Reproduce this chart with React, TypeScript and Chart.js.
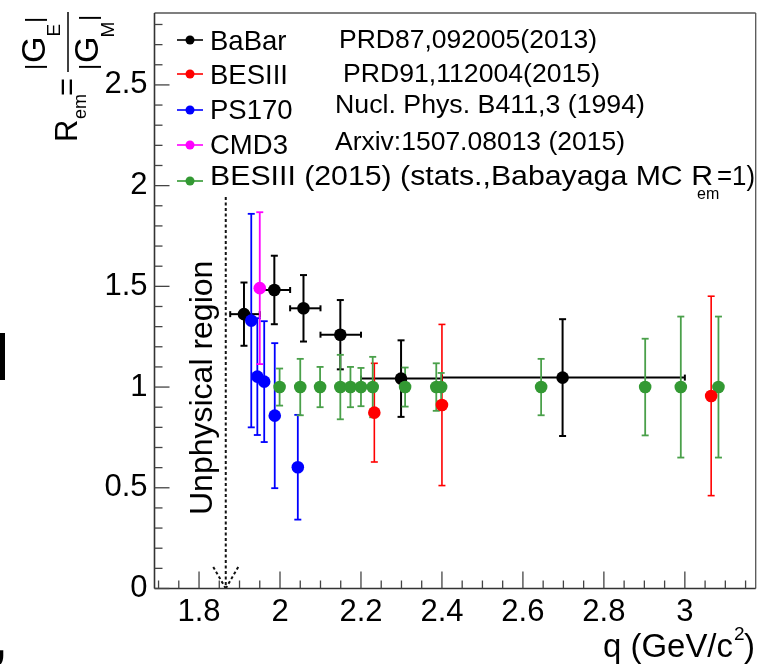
import React, { useEffect, useRef } from "react";
import { Chart, registerables } from "chart.js";

Chart.register(...registerables);

const FONT = '"Liberation Sans", Arial, Helvetica, sans-serif';

// Axis ranges
const Q_MIN = 1.69;
const Q_MAX = 3.175;
const R_MIN = 0;
const R_MAX = 2.857;
const Q_MAJOR_STEP = 0.2;
const Q_MINOR_STEP = 0.05;
const R_MAJOR_STEP = 0.5;
const R_MINOR_STEP = 0.1;

// Proton-antiproton threshold marker
const THRESHOLD_Q = 1.866;
const THRESHOLD_TOP_R = 1.944;

// BaBar PRD87,092005(2013)
const babarQ = [1.911, 1.986, 2.058, 2.149, 2.299, 2.698];
const babarQLow = [1.877, 1.95, 2.025, 2.1, 2.2, 2.4];
const babarQHigh = [1.95, 2.025, 2.1, 2.2, 2.4, 3.0];
const babarR = [1.362, 1.482, 1.391, 1.26, 1.042, 1.047];
const babarErr = [0.157, 0.17, 0.165, 0.172, 0.19, 0.29];

// BESIII PRD91,112004(2015)
const besQ = [2.233, 2.4, 3.065];
const besR = [0.873, 0.911, 0.956];
const besErr = [0.245, 0.4, 0.495];

// PS170 Nucl. Phys. B411,3 (1994)
const ps170Q = [1.929, 1.944, 1.961, 1.987, 2.044];
const ps170R = [1.33, 1.052, 1.027, 0.858, 0.602];
const ps170Err = [0.53, 0.29, 0.3, 0.36, 0.26];

// CMD3 Arxiv:1507.08013 (2015)
const cmd3Q = [1.95];
const cmd3R = [1.491];
const cmd3Err = [0.377];

// BESIII (2015) stats., Babayaga MC R_em = 1
const mcQ = [1.999, 2.05, 2.099, 2.149, 2.174, 2.2, 2.229, 2.309, 2.386, 2.398, 2.645, 2.902, 2.99, 3.083];
const mcR = [1, 1, 1, 1, 1, 1, 1, 1, 1, 1, 1, 1, 1, 1];
const mcErr = [0.092, 0.14, 0.1, 0.16, 0.1, 0.095, 0.15, 0.097, 0.118, 0.07, 0.14, 0.24, 0.35, 0.35];

const legendLabels = ["BaBar", "BESIII", "PS170", "CMD3", "BESIII (2015) (stats.,Babayaga MC R"];
const legendSub = "em";
const legendTail = "=1)";
const legendRefs = ["PRD87,092005(2013)", "PRD91,112004(2015)", "Nucl. Phys. B411,3 (1994)", "Arxiv:1507.08013 (2015)"];
const seriesColors = ["#000000", "#ff0000", "#0000ff", "#ff00ff", "#339933"];
const unphysicalLabel = "Unphysical region";

function line(ctx: CanvasRenderingContext2D, x1: number, y1: number, x2: number, y2: number) {
  ctx.beginPath();
  ctx.moveTo(x1, y1);
  ctx.lineTo(x2, y2);
  ctx.stroke();
}

function rotText(ctx: CanvasRenderingContext2D, text: string, xBase: number, yStart: number, font: string) {
  ctx.save();
  ctx.font = font;
  ctx.textAlign = "left";
  ctx.textBaseline = "alphabetic";
  ctx.translate(xBase, yStart);
  ctx.rotate(-Math.PI / 2);
  ctx.fillText(text, 0, 0);
  ctx.restore();
}

function fitText(ctx: CanvasRenderingContext2D, text: string, x: number, base: number, font: string, width: number) {
  ctx.save();
  ctx.font = font;
  ctx.textAlign = "left";
  ctx.textBaseline = "alphabetic";
  const w = ctx.measureText(text).width;
  ctx.translate(x, base);
  ctx.scale(width / w, 1);
  ctx.fillText(text, 0, 0);
  ctx.restore();
}

const rootPlugin = {
  id: "rootStyle",
  beforeDatasetsDraw(chart: any) {
    const { ctx, scales } = chart;
    const x = scales.x;
    const y = scales.y;
    ctx.save();
    // threshold dashed line with arrow
    ctx.strokeStyle = "#111";
    ctx.lineWidth = 2;
    ctx.setLineDash([3, 2.5]);
    const tx = x.getPixelForValue(THRESHOLD_Q);
    const yTop = y.getPixelForValue(THRESHOLD_TOP_R);
    const yBot = y.getPixelForValue(0);
    line(ctx, tx, yTop, tx, yBot);
    line(ctx, tx - 12.5, yBot - 21.5, tx, yBot);
    line(ctx, tx + 12.5, yBot - 21.5, tx, yBot);
    ctx.setLineDash([]);
    ctx.fillStyle = "#000";
    rotText(ctx, unphysicalLabel, 212, 515, `32px ${FONT}`);

    // error bars
    chart.data.datasets.forEach((ds: any) => {
      ctx.strokeStyle = ds.errColor || ds.borderColor;
      ctx.lineWidth = ds.errWidth || 1.8;
      ds.data.forEach((p: any, i: number) => {
        const px = x.getPixelForValue(p.x);
        const e = ds.errY[i];
        const y1 = y.getPixelForValue(p.y + e);
        const y2 = y.getPixelForValue(p.y - e);
        line(ctx, px, y1, px, y2);
        line(ctx, px - 3.5, y1, px + 3.5, y1);
        line(ctx, px - 3.5, y2, px + 3.5, y2);
        if (ds.errXLow) {
          const py = y.getPixelForValue(p.y);
          const xl = x.getPixelForValue(ds.errXLow[i]);
          const xh = x.getPixelForValue(ds.errXHigh[i]);
          line(ctx, xl, py, xh, py);
          line(ctx, xl, py - 3, xl, py + 3);
          line(ctx, xh, py - 3, xh, py + 3);
        }
      });
    });
    ctx.restore();
  },
  afterDraw(chart: any) {
    const { ctx, chartArea: a, scales } = chart;
    const x = scales.x;
    const y = scales.y;
    ctx.save();
    // frame
    ctx.strokeStyle = "#555";
    ctx.lineWidth = 1.3;
    line(ctx, a.left, a.top, a.right, a.top);
    line(ctx, a.right, a.top, a.right, a.bottom);
    ctx.strokeStyle = "#333";
    ctx.lineWidth = 1.6;
    line(ctx, a.left, a.top, a.left, a.bottom);
    line(ctx, a.left, a.bottom, a.right, a.bottom);

    // inner ticks
    ctx.strokeStyle = "#444";
    ctx.lineWidth = 1.3;
    const q0 = Math.ceil(x.min / Q_MINOR_STEP - 1e-6) * Q_MINOR_STEP;
    for (let v = q0; v <= x.max + 1e-9; v += Q_MINOR_STEP) {
      const major = Math.abs(v / Q_MAJOR_STEP - Math.round(v / Q_MAJOR_STEP)) < 1e-4;
      const px = x.getPixelForValue(v);
      line(ctx, px, a.bottom, px, a.bottom - (major ? 17 : 8));
    }
    const r0 = Math.ceil(y.min / R_MINOR_STEP - 1e-6) * R_MINOR_STEP;
    for (let v = r0; v <= y.max + 1e-9; v += R_MINOR_STEP) {
      const major = Math.abs(v / R_MAJOR_STEP - Math.round(v / R_MAJOR_STEP)) < 1e-4;
      const py = y.getPixelForValue(v);
      line(ctx, a.left, py, a.left + (major ? 15 : 8), py);
    }

    // legend
    const rowY = [40, 74, 110, 145, 181];
    const baseY = [49.5, 84, 119, 154, 185];
    ctx.fillStyle = "#000";
    ctx.textAlign = "left";
    ctx.textBaseline = "alphabetic";
    for (let i = 0; i < legendLabels.length; i++) {
      const c = seriesColors[i];
      ctx.strokeStyle = c;
      ctx.fillStyle = c;
      ctx.lineWidth = 1.6;
      line(ctx, 177, rowY[i], 203, rowY[i]);
      ctx.beginPath();
      ctx.arc(190, rowY[i], 4.5, 0, Math.PI * 2);
      ctx.fill();
      ctx.fillStyle = "#000";
      if (i < 4) {
        ctx.font = `27.5px ${FONT}`;
        ctx.fillText(legendLabels[i], 210, baseY[i]);
      } else {
        fitText(ctx, legendLabels[i], 210, baseY[i], `27.5px ${FONT}`, 503);
        ctx.font = `16px ${FONT}`;
        ctx.fillText(legendSub, 697, baseY[i] + 14);
        fitText(ctx, legendTail, 717, baseY[i], `27.5px ${FONT}`, 38);
      }
    }
    const refX = [339, 343, 335, 335];
    const refBase = [48, 82, 112.5, 150];
    const refW = [258, 257, 310, 290];
    for (let i = 0; i < legendRefs.length; i++) {
      fitText(ctx, legendRefs[i], refX[i], refBase[i], `25px ${FONT}`, refW[i]);
    }

    // y-axis title: R_em = |G_E| / |G_M|
    ctx.fillStyle = "#000";
    rotText(ctx, "R", 77, 142, `31px ${FONT}`);
    rotText(ctx, "em", 86, 119, `18px ${FONT}`);
    rotText(ctx, "=", 77, 96, `31px ${FONT}`);
    ctx.strokeStyle = "#000";
    ctx.lineWidth = 1.5;
    line(ctx, 68, 12, 68, 72);
    rotText(ctx, "|", 42, 70, `24px ${FONT}`);
    rotText(ctx, "G", 45, 63, `34px ${FONT}`);
    rotText(ctx, "E", 60, 36.5, `19px ${FONT}`);
    rotText(ctx, "|", 42, 23, `24px ${FONT}`);
    rotText(ctx, "|", 96, 70, `24px ${FONT}`);
    rotText(ctx, "G", 98, 63, `34px ${FONT}`);
    rotText(ctx, "M", 114, 37.5, `19px ${FONT}`);
    rotText(ctx, "|", 96, 21, `24px ${FONT}`);

    // x-axis title: q (GeV/c^2)
    ctx.textAlign = "left";
    ctx.textBaseline = "alphabetic";
    fitText(ctx, "q (GeV/c", 603, 657, `33px ${FONT}`, 130);
    ctx.font = `19px ${FONT}`;
    ctx.fillText("2", 734, 640);
    ctx.font = `33px ${FONT}`;
    ctx.fillText(")", 744, 657);

    // cropped fragments at the left edge of the source picture
    ctx.fillStyle = "#000";
    ctx.fillRect(0, 333, 5, 47);
    ctx.font = `bold 44px ${FONT}`;
    ctx.fillText(",", -6, 657);
    ctx.restore();
  },
};

export default function App() {
  const canvasRef = useRef<HTMLCanvasElement | null>(null);

  useEffect(() => {
    const canvas = canvasRef.current;
    if (!canvas) return;
    const series = [
      { label: legendLabels[0], color: seriesColors[0], q: babarQ, r: babarR, err: babarErr, qLow: babarQLow, qHigh: babarQHigh, order: 4, errWidth: 2 },
      { label: legendLabels[1], color: seriesColors[1], q: besQ, r: besR, err: besErr, order: 2, errWidth: 1.6 },
      { label: legendLabels[2], color: seriesColors[2], q: ps170Q, r: ps170R, err: ps170Err, order: 0, errWidth: 1.8 },
      { label: legendLabels[3], color: seriesColors[3], q: cmd3Q, r: cmd3R, err: cmd3Err, order: 1, errWidth: 1.8 },
      { label: "BESIII (2015)", color: seriesColors[4], q: mcQ, r: mcR, err: mcErr, order: 3, errWidth: 1.8, errColor: "#4aa04a" },
    ];
    const chart = new Chart(canvas, {
      type: "scatter",
      data: {
        datasets: series.map((s: any) => ({
          label: s.label,
          data: s.q.map((q: number, i: number) => ({ x: q, y: s.r[i] })),
          backgroundColor: s.color,
          borderColor: s.color,
          pointRadius: 6.3,
          pointHoverRadius: 6.3,
          pointBorderWidth: 0,
          showLine: false,
          order: s.order,
          errY: s.err,
          errXLow: s.qLow,
          errXHigh: s.qHigh,
          errWidth: s.errWidth,
          errColor: s.errColor,
        })) as any,
      },
      options: {
        animation: false,
        responsive: false,
        devicePixelRatio: 1,
        events: [],
        layout: { padding: { left: 0, top: 13, right: 5, bottom: 0 } },
        plugins: { legend: { display: false }, tooltip: { enabled: false } },
        scales: {
          x: {
            type: "linear",
            min: Q_MIN,
            max: Q_MAX,
            grid: { display: false, drawTicks: false, tickLength: 0 },
            border: { display: false },
            ticks: {
              stepSize: Q_MAJOR_STEP,
              includeBounds: false,
              autoSkip: false,
              maxRotation: 0,
              padding: 5,
              color: "#000",
              font: { family: FONT, size: 31 },
              callback: (v: any) => String(Number(Number(v).toFixed(3))),
            },
            afterFit: (s: any) => {
              s.height = 75.5;
              s.paddingLeft = 0;
              s.paddingRight = 0;
            },
          },
          y: {
            type: "linear",
            min: R_MIN,
            max: R_MAX,
            grid: { display: false, drawTicks: false, tickLength: 0 },
            border: { display: false },
            ticks: {
              stepSize: R_MAJOR_STEP,
              includeBounds: false,
              autoSkip: false,
              padding: 7,
              color: "#000",
              font: { family: FONT, size: 31 },
              callback: (v: any) => String(Number(Number(v).toFixed(3))),
            },
            afterFit: (s: any) => {
              s.width = 154.5;
              s.paddingTop = 0;
              s.paddingBottom = 0;
            },
          },
        },
      } as any,
      plugins: [rootPlugin as any],
    });
    return () => chart.destroy();
  }, []);

  return (
    <div style={{ position: "fixed", left: 0, top: 0, width: 762, height: 664, background: "#fff" }}>
      <canvas ref={canvasRef} width={762} height={664} style={{ display: "block" }} />
    </div>
  );
}
